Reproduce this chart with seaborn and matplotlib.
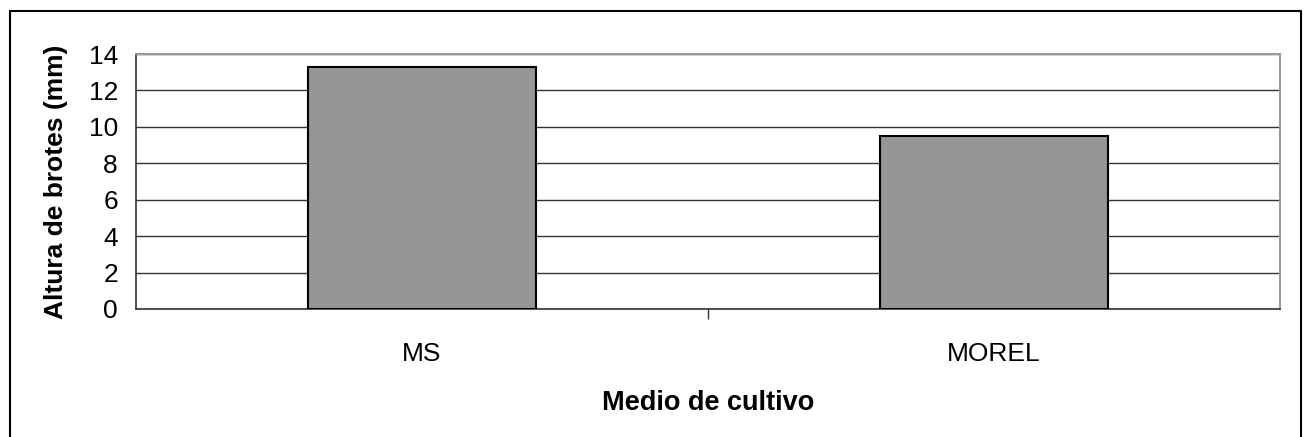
import matplotlib
matplotlib.use('Agg')
import matplotlib.pyplot as plt
import seaborn as sns
import pandas as pd
from matplotlib.lines import Line2D

# Altura de brotes por medio de cultivo
medios = ['MS', 'MOREL']
altura = [13.3, 9.5]

sns.set_style('white', {'text.color': 'black', 'axes.labelcolor': 'black',
                        'xtick.color': 'black', 'ytick.color': 'black'})
plt.rcParams['font.family'] = ['Liberation Sans', 'DejaVu Sans']

df = pd.DataFrame({'Medio de cultivo': medios, 'Altura de brotes (mm)': altura})

fig = plt.figure(figsize=(13.06, 4.37), dpi=100)
ax = fig.add_axes([136/1306, 1 - 309/437, 1144/1306, 255/437])

sns.barplot(data=df, x='Medio de cultivo', y='Altura de brotes (mm)', color='#969696',
            width=0.4, edgecolor='black', linewidth=1.5, saturation=1, ax=ax, zorder=3)

ax.set_xlim(-0.5, 1.5)
ax.set_ylim(0, 14)
ax.set_yticks(range(0, 15, 2))
ax.set_yticklabels([str(v) for v in range(0, 15, 2)], fontsize=19)
ax.yaxis.grid(True, color='#333333', linewidth=1, zorder=0)
ax.set_axisbelow(True)

# category labels centred, ticks at category boundaries
ax.set_xticks([0.5], minor=False)
ax.set_xticklabels([''])
ax.set_xticks([0, 1], minor=True)
ax.set_xticklabels(medios, minor=True, fontsize=19)
ax.tick_params(axis='x', which='minor', length=0, pad=24)
ax.tick_params(axis='x', which='major', direction='out', length=7, width=1, color='#333333')
ax.tick_params(axis='y', direction='out', length=8, width=1, color='#333333', pad=5)
ax.tick_params(axis='x', which='both', bottom=True)

ax.set_xlabel('Medio de cultivo', fontsize=19.5, fontweight='bold', labelpad=17)
ax.set_ylabel('Altura de brotes (mm)', fontsize=19, fontweight='bold', labelpad=15)

for side in ['left', 'bottom']:
    ax.spines[side].set_color('#333333')
    ax.spines[side].set_linewidth(1.2)
for side in ['top', 'right']:
    ax.spines[side].set_color('#999999')
    ax.spines[side].set_linewidth(1.5)

# outer frame of the chart area
x0, x1 = 9.5 / 1306, 1300.5 / 1306
y1 = 1 - 10.5 / 437
for xs, ys in [([x0, x0], [0, y1]), ([x0, x1], [y1, y1]), ([x1, x1], [y1, 0])]:
    fig.add_artist(Line2D(xs, ys, transform=fig.transFigure, color='black', linewidth=1.5))

plt.savefig('out.png', dpi=100)
